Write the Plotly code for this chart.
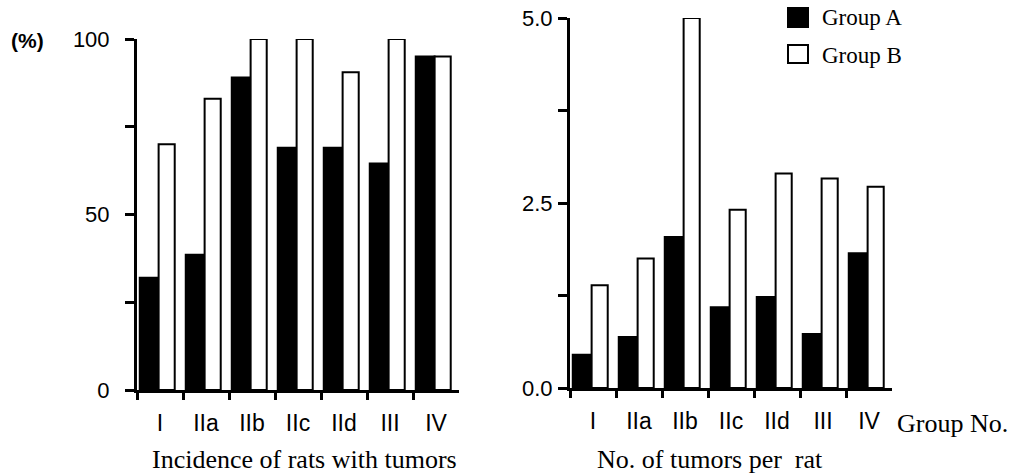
import plotly.graph_objects as go

groups = ["I", "IIa", "IIb", "IIc", "IId", "III", "IV"]
incidence_a = [32, 38.5, 89, 69, 69, 64.5, 95]
incidence_b = [70, 83, 100, 100, 90.5, 100, 95]
tumors_a = [0.45, 0.69, 2.04, 1.09, 1.23, 0.73, 1.82]
tumors_b = [1.39, 1.75, 5.0, 2.41, 2.90, 2.83, 2.72]
left_ticks = [0, 25, 50, 75, 100]
left_ticktext = ["0", "", "50", "", "100"]
right_ticks = [0, 1.25, 2.5, 3.75, 5.0]
right_ticktext = ["0.0", "", "2.5", "", "5.0"]

W, H = 1015, 476


def px(x):
    return x / W


def py(y):
    return 1 - y / H


SANS = "Liberation Sans, Arial, sans-serif"
SERIF = "Liberation Serif, Times New Roman, serif"

fig = go.Figure()
bar_a = dict(marker=dict(color="black", line=dict(color="black", width=2)), offset=-0.44, width=0.41, showlegend=False)
bar_b = dict(marker=dict(color="white", line=dict(color="black", width=2)), offset=-0.03, width=0.35, showlegend=False)

fig.add_trace(go.Bar(x=groups, y=incidence_a, name="Group A", xaxis="x", yaxis="y", **bar_a))
fig.add_trace(go.Bar(x=groups, y=incidence_b, name="Group B", xaxis="x", yaxis="y", **bar_b))
fig.add_trace(go.Bar(x=groups, y=tumors_a, name="Group A", xaxis="x2", yaxis="y2", **bar_a))
fig.add_trace(go.Bar(x=groups, y=tumors_b, name="Group B", xaxis="x2", yaxis="y2", **bar_b))

xcommon = dict(type="category", categoryorder="array", categoryarray=groups,
               range=[-0.5, 6.5], tickson="boundaries", ticks="outside", ticklen=7,
               tickwidth=2.5, tickcolor="black", showline=True, linecolor="black",
               linewidth=3, showgrid=False, zeroline=False,
               tickfont=dict(family=SANS, size=23, color="black"), ticklabelstandoff=10)
ycommon = dict(ticks="outside", ticklen=9, tickwidth=2.5, tickcolor="black",
               showline=True, linecolor="black", linewidth=3, showgrid=False,
               zeroline=False, tickfont=dict(family=SANS, size=22, color="black"))

fig.update_layout(
    width=W, height=H,
    margin=dict(l=0, r=0, t=0, b=0, autoexpand=False),
    paper_bgcolor="white", plot_bgcolor="white",
    barmode="overlay",
    xaxis=dict(domain=[px(137), px(459)], anchor="y", **xcommon),
    yaxis=dict(domain=[py(390), py(39)], anchor="x", range=[0, 100],
               tickvals=left_ticks, ticktext=left_ticktext, ticklabelstandoff=11, **ycommon),
    xaxis2=dict(domain=[px(570), px(892)], anchor="y2", **xcommon),
    yaxis2=dict(domain=[py(388), py(18)], anchor="x2", range=[0, 5],
                tickvals=right_ticks, ticktext=right_ticktext, ticklabelstandoff=1, **ycommon),
)

annotations = [
    dict(text="<b>(%)</b>", x=px(27), y=py(40), font=dict(family=SANS, size=21)),
    dict(text="Incidence of rats with tumors", x=px(304), y=0, yanchor="bottom",
         font=dict(family=SERIF, size=26)),
    dict(text="No. of tumors per&nbsp; rat", x=px(710), y=0, yanchor="bottom",
         font=dict(family=SERIF, size=26)),
    dict(text="Group No.", x=px(895), y=py(423), xanchor="left", font=dict(family=SERIF, size=26)),
    dict(text="Group A", x=px(820), y=py(18), xanchor="left", font=dict(family=SERIF, size=23)),
    dict(text="Group B", x=px(820), y=py(55), xanchor="left", font=dict(family=SERIF, size=23)),
]
for a in annotations:
    a.setdefault("xanchor", "center")
    a.setdefault("yanchor", "middle")
    fig.add_annotation(xref="paper", yref="paper", showarrow=False, **a)
for a in fig.layout.annotations:
    a.font.color = "black"

fig.add_shape(type="rect", xref="paper", yref="paper", x0=px(788), x1=px(808), y0=py(27), y1=py(8),
              fillcolor="black", line=dict(color="black", width=2))
fig.add_shape(type="rect", xref="paper", yref="paper", x0=px(788), x1=px(808), y0=py(63), y1=py(45),
              fillcolor="white", line=dict(color="black", width=2))

fig.write_html("out.html")
